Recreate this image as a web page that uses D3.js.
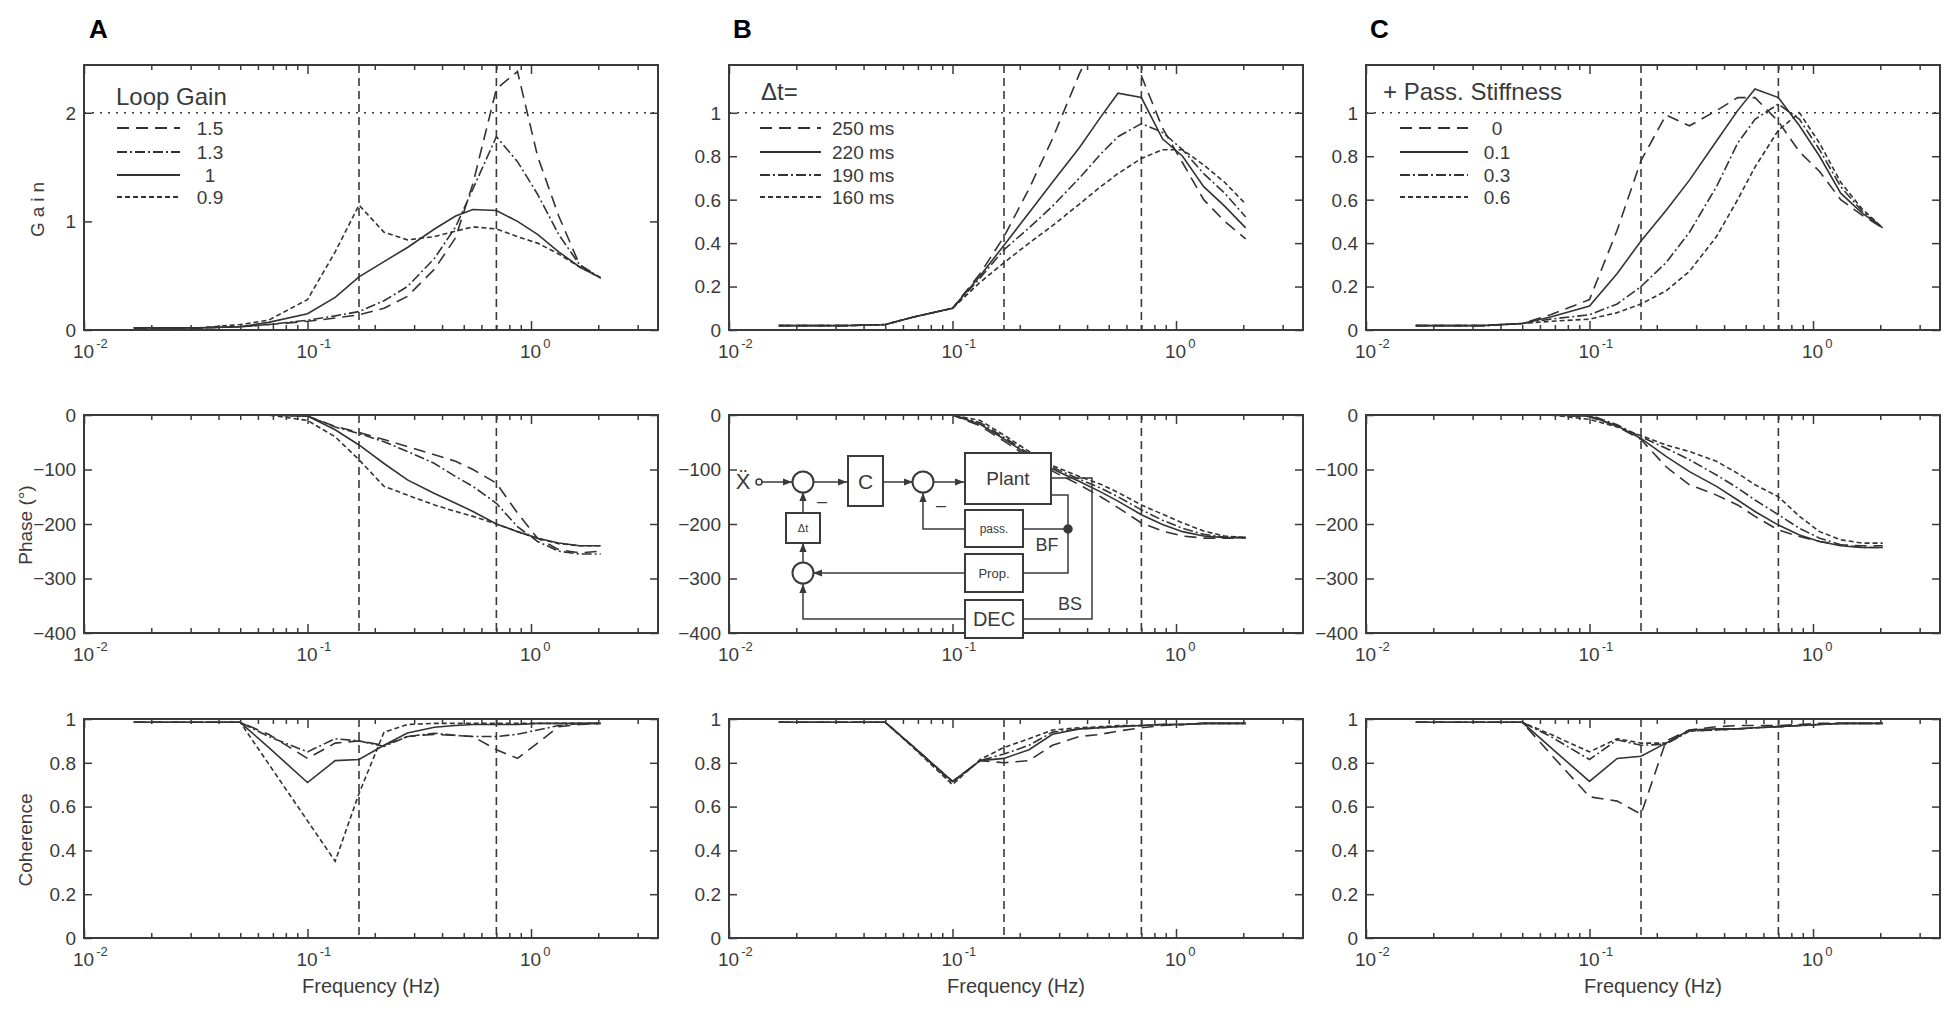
<!DOCTYPE html>
<html>
<head>
<meta charset="utf-8">
<script src="https://cdn.jsdelivr.net/npm/d3@7"></script>
<style>
  body { margin: 0; background: #fff; }
  svg { display: block; font-family: "Liberation Sans", Arial, Helvetica, "DejaVu Sans", sans-serif; }
</style>
</head>
<body>
<svg id="fig" width="1950" height="1013"></svg>
<script>
// frequencies (Hz) where every curve is sampled
const freqs = [0.0167, 0.033, 0.05, 0.067, 0.1, 0.133, 0.17, 0.22, 0.28, 0.37, 0.46, 0.55, 0.7, 0.87, 1.07, 1.33, 1.65, 2.05];

// A: loop gain 1.5 / 1.3 / 1 / 0.9
const gainA_15 = [0.02, 0.02, 0.03, 0.05, 0.08, 0.11, 0.14, 0.2, 0.31, 0.56, 0.85, 1.35, 2.22, 2.38, 1.6, 1.05, 0.6, 0.48];
const gainA_13 = [0.02, 0.02, 0.03, 0.05, 0.09, 0.13, 0.17, 0.27, 0.4, 0.66, 0.95, 1.3, 1.78, 1.55, 1.25, 0.88, 0.6, 0.48];
const gainA_10 = [0.02, 0.02, 0.03, 0.07, 0.15, 0.3, 0.49, 0.63, 0.76, 0.93, 1.05, 1.11, 1.1, 1.0, 0.88, 0.72, 0.58, 0.48];
const gainA_09 = [0.02, 0.02, 0.05, 0.09, 0.28, 0.72, 1.15, 0.9, 0.83, 0.86, 0.91, 0.95, 0.93, 0.86, 0.8, 0.7, 0.58, 0.48];
const phaseA_15 = [0, 0, 0, 0, -2, -21, -32, -45, -58, -73, -85, -100, -125, -180, -226, -247, -253, -250];
const phaseA_13 = [0, 0, 0, 0, -2, -22, -34, -49, -67, -89, -113, -131, -162, -205, -232, -250, -255, -255];
const phaseA_10 = [0, 0, 0, 0, -2, -27, -55, -89, -119, -144, -162, -177, -200, -214, -226, -235, -240, -240];
const phaseA_09 = [0, 0, 0, 0, -10, -40, -82, -131, -147, -165, -177, -186, -200, -214, -226, -236, -240, -240];
const cohA_15 = [0.985, 0.985, 0.985, 0.93, 0.82, 0.89, 0.9, 0.88, 0.92, 0.93, 0.925, 0.92, 0.86, 0.82, 0.89, 0.965, 0.975, 0.98];
const cohA_13 = [0.985, 0.985, 0.985, 0.92, 0.85, 0.91, 0.9, 0.875, 0.92, 0.935, 0.925, 0.92, 0.92, 0.93, 0.95, 0.97, 0.98, 0.98];
const cohA_10 = [0.985, 0.985, 0.985, 0.87, 0.71, 0.81, 0.815, 0.88, 0.936, 0.962, 0.97, 0.975, 0.975, 0.975, 0.98, 0.98, 0.98, 0.98];
const cohA_09 = [0.985, 0.985, 0.985, 0.795, 0.535, 0.35, 0.66, 0.94, 0.975, 0.98, 0.98, 0.98, 0.98, 0.98, 0.98, 0.98, 0.98, 0.98];

// B: delay 250 / 220 / 190 / 160 ms
const gainB_250 = [0.02, 0.02, 0.025, 0.06, 0.1, 0.26, 0.43, 0.65, 0.88, 1.18, 1.38, 1.42, 1.17, 0.93, 0.77, 0.6, 0.5, 0.42];
const gainB_220 = [0.02, 0.02, 0.025, 0.06, 0.1, 0.25, 0.39, 0.54, 0.68, 0.84, 0.98, 1.09, 1.07, 0.88, 0.8, 0.66, 0.57, 0.47];
const gainB_190 = [0.02, 0.02, 0.025, 0.06, 0.1, 0.24, 0.37, 0.47, 0.57, 0.7, 0.81, 0.89, 0.95, 0.91, 0.83, 0.72, 0.63, 0.52];
const gainB_160 = [0.02, 0.02, 0.025, 0.06, 0.1, 0.22, 0.31, 0.4, 0.48, 0.58, 0.66, 0.72, 0.79, 0.83, 0.83, 0.76, 0.68, 0.58];
const phaseB_250 = [0, 0, 0, 0, 0, -20, -48, -78, -103, -128, -150, -170, -198, -213, -222, -226, -226, -225];
const phaseB_220 = [0, 0, 0, 0, 0, -17, -44, -74, -99, -122, -141, -158, -183, -201, -214, -222, -225, -225];
const phaseB_190 = [0, 0, 0, 0, 0, -14, -41, -71, -96, -118, -134, -150, -174, -193, -208, -219, -224, -225];
const phaseB_160 = [0, 0, 0, 0, 0, -10, -37, -67, -93, -113, -127, -142, -165, -182, -198, -213, -222, -225];
const cohB_250 = [0.985, 0.985, 0.985, 0.873, 0.715, 0.81, 0.8, 0.81, 0.88, 0.92, 0.93, 0.945, 0.96, 0.97, 0.975, 0.98, 0.98, 0.98];
const cohB_220 = [0.985, 0.985, 0.985, 0.873, 0.715, 0.81, 0.82, 0.86, 0.93, 0.955, 0.96, 0.965, 0.97, 0.975, 0.975, 0.98, 0.98, 0.98];
const cohB_190 = [0.985, 0.985, 0.985, 0.87, 0.71, 0.81, 0.84, 0.88, 0.94, 0.955, 0.96, 0.965, 0.97, 0.975, 0.975, 0.98, 0.98, 0.98];
const cohB_160 = [0.985, 0.985, 0.985, 0.868, 0.7, 0.815, 0.87, 0.91, 0.95, 0.96, 0.965, 0.97, 0.97, 0.975, 0.975, 0.98, 0.98, 0.98];

// C: passive stiffness 0 / 0.1 / 0.3 / 0.6
const gainC_0 = [0.02, 0.02, 0.03, 0.07, 0.14, 0.46, 0.78, 0.99, 0.94, 1.01, 1.07, 1.07, 0.96, 0.82, 0.73, 0.6, 0.53, 0.47];
const gainC_01 = [0.02, 0.02, 0.03, 0.06, 0.11, 0.26, 0.41, 0.55, 0.69, 0.87, 1.01, 1.11, 1.07, 0.94, 0.8, 0.63, 0.54, 0.47];
const gainC_03 = [0.02, 0.02, 0.03, 0.05, 0.07, 0.12, 0.2, 0.31, 0.45, 0.66, 0.86, 0.97, 1.04, 0.97, 0.83, 0.66, 0.55, 0.47];
const gainC_06 = [0.02, 0.02, 0.03, 0.04, 0.05, 0.08, 0.12, 0.18, 0.27, 0.43, 0.6, 0.75, 0.92, 1.0, 0.86, 0.68, 0.56, 0.47];
const phaseC_0 = [0, 0, 0, 0, -3, -21, -45, -95, -128, -147, -165, -186, -211, -223, -232, -238, -240, -240];
const phaseC_01 = [0, 0, 0, 0, -2, -20, -43, -76, -104, -131, -156, -177, -202, -220, -232, -240, -243, -243];
const phaseC_03 = [0, 0, 0, 0, 0, -18, -40, -61, -82, -110, -134, -156, -183, -208, -226, -238, -243, -243];
const phaseC_06 = [0, 0, 0, 0, -8, -22, -38, -55, -67, -85, -107, -128, -150, -186, -214, -229, -235, -235];
const cohC_0 = [0.985, 0.985, 0.985, 0.84, 0.645, 0.625, 0.565, 0.9, 0.95, 0.965, 0.97, 0.97, 0.97, 0.975, 0.98, 0.98, 0.98, 0.98];
const cohC_01 = [0.985, 0.985, 0.985, 0.87, 0.715, 0.82, 0.83, 0.89, 0.95, 0.955, 0.955, 0.96, 0.965, 0.97, 0.975, 0.98, 0.98, 0.98];
const cohC_03 = [0.985, 0.985, 0.985, 0.92, 0.815, 0.905, 0.88, 0.885, 0.945, 0.95, 0.955, 0.96, 0.965, 0.97, 0.975, 0.98, 0.98, 0.98];
const cohC_06 = [0.985, 0.985, 0.985, 0.93, 0.85, 0.91, 0.89, 0.89, 0.945, 0.95, 0.955, 0.96, 0.965, 0.97, 0.975, 0.98, 0.98, 0.98];

// legends and reference frequencies
const legendA = ["1.5", "1.3", "1", "0.9"];
const legendB = ["250 ms", "220 ms", "190 ms", "160 ms"];
const legendC = ["0", "0.1", "0.3", "0.6"];
const refFreqs = [0.17, 0.7];
const xDecades = [0.01, 0.1, 1];
const gainTicksA = [0, 1, 2];
const gainTicksBC = [0, 0.2, 0.4, 0.6, 0.8, 1];
const phaseTicks = [-400, -300, -200, -100, 0];
const cohTicks = [0, 0.2, 0.4, 0.6, 0.8, 1];

const ink = "#3a3a3a";
const dashes = { dashed: "12,7", dashdot: "10,3,2,3", solid: null, dotted: "5,3" };
const W = 574;
const colX = [84, 729, 1366];
const rows = [{ top: 65, bottom: 330 }, { top: 415, bottom: 633 }, { top: 719, bottom: 938 }];

const columns = [
  { letter: "A", title: "Loop Gain", labels: legendA, styles: ["dashed", "dashdot", "solid", "dotted"],
    gain: [gainA_15, gainA_13, gainA_10, gainA_09], phase: [phaseA_15, phaseA_13, phaseA_10, phaseA_09],
    coh: [cohA_15, cohA_13, cohA_10, cohA_09], gainMax: 2.44, gainTicks: gainTicksA, gainRef: 2,
    titleX: 32, lineX: [33, 96], labelX: 126, labelAnchor: "middle" },
  { letter: "B", title: "\u0394t=", labels: legendB, styles: ["dashed", "solid", "dashdot", "dotted"],
    gain: [gainB_250, gainB_220, gainB_190, gainB_160], phase: [phaseB_250, phaseB_220, phaseB_190, phaseB_160],
    coh: [cohB_250, cohB_220, cohB_190, cohB_160], gainMax: 1.22, gainTicks: gainTicksBC, gainRef: 1,
    titleX: 32, lineX: [31, 92], labelX: 103, labelAnchor: "start" },
  { letter: "C", title: "+ Pass. Stiffness", labels: legendC, styles: ["dashed", "solid", "dashdot", "dotted"],
    gain: [gainC_0, gainC_01, gainC_03, gainC_06], phase: [phaseC_0, phaseC_01, phaseC_03, phaseC_06],
    coh: [cohC_0, cohC_01, cohC_03, cohC_06], gainMax: 1.22, gainTicks: gainTicksBC, gainRef: 1,
    titleX: 17, lineX: [34, 102], labelX: 131, labelAnchor: "middle" }
];

const svg = d3.select("#fig");
const defs = svg.append("defs");
defs.append("marker").attr("id", "arr").attr("viewBox", "0 -5 10 10")
  .attr("refX", 10).attr("refY", 0).attr("markerWidth", 9).attr("markerHeight", 9)
  .attr("markerUnits", "userSpaceOnUse").attr("orient", "auto")
  .append("path").attr("d", "M0,-4L10,0L0,4Z").attr("fill", ink);

const x = d3.scaleLog().domain([0.01, 3.7]).range([0, W]);
const minorTicks = [];
xDecades.forEach(d => { for (let k = 2; k <= 9; k++) if (d * k <= 3.7) minorTicks.push(d * k); });

const fmt = d3.format("~g");
let clipId = 0;

function panel(ci, ri, yDomain, yTicks, series, styles, opts) {
  const row = rows[ri];
  const h = row.bottom - row.top;
  const g = svg.append("g").attr("transform", `translate(${colX[ci]},${row.top})`);
  const y = d3.scaleLinear().domain(yDomain).range([h, 0]);

  const id = "clip" + (clipId++);
  defs.append("clipPath").attr("id", id).append("rect").attr("width", W).attr("height", h);
  const plot = g.append("g").attr("clip-path", `url(#${id})`);

  // reference lines
  refFreqs.forEach((f, i) => {
    if (opts.skipRef && opts.skipRef.includes(i)) return;
    plot.append("line").attr("x1", x(f)).attr("x2", x(f)).attr("y1", 0).attr("y2", h)
      .attr("stroke", ink).attr("stroke-width", 1.6).attr("stroke-dasharray", "8,5");
  });
  if (opts.hRef != null) {
    plot.append("line").attr("x1", 0).attr("x2", W).attr("y1", y(opts.hRef)).attr("y2", y(opts.hRef))
      .attr("stroke", ink).attr("stroke-width", 1.6).attr("stroke-dasharray", "2,6");
  }

  const line = d3.line().x((d, i) => x(freqs[i])).y(d => y(d));
  series.forEach((s, i) => {
    plot.append("path").attr("d", line(s)).attr("fill", "none")
      .attr("stroke", "#333").attr("stroke-width", 1.6)
      .attr("stroke-dasharray", dashes[styles[i]]);
  });

  // ticks, pointing inward on all four sides
  const tickStyle = sel => {
    sel.select(".domain").remove();
    sel.selectAll("line").attr("stroke", ink).attr("stroke-width", 1.5);
  };
  g.append("g").attr("transform", `translate(0,${h})`)
    .call(d3.axisBottom(x).tickValues(xDecades).tickSize(-9).tickFormat("")).call(tickStyle);
  g.append("g").attr("transform", `translate(0,${h})`)
    .call(d3.axisBottom(x).tickValues(minorTicks).tickSize(-5).tickFormat("")).call(tickStyle);
  g.append("g").call(d3.axisTop(x).tickValues(xDecades).tickSize(-9).tickFormat("")).call(tickStyle);
  g.append("g").call(d3.axisTop(x).tickValues(minorTicks).tickSize(-5).tickFormat("")).call(tickStyle);
  g.append("g").call(d3.axisLeft(y).tickValues(yTicks).tickSize(-8).tickFormat("")).call(tickStyle);
  g.append("g").attr("transform", `translate(${W},0)`)
    .call(d3.axisRight(y).tickValues(yTicks).tickSize(-8).tickFormat("")).call(tickStyle);

  g.append("rect").attr("width", W).attr("height", h).attr("fill", "none")
    .attr("stroke", ink).attr("stroke-width", 2);

  // tick labels
  yTicks.forEach(v => {
    g.append("text").attr("x", -8).attr("y", y(v)).attr("dy", "0.36em")
      .attr("text-anchor", "end").attr("font-size", 19).attr("fill", ink).text(fmt(v));
  });
  xDecades.forEach(d => {
    const t = g.append("text").attr("x", x(d) - 11).attr("y", h + 28)
      .attr("font-size", 19).attr("fill", ink);
    t.append("tspan").text("10");
    t.append("tspan").attr("dx", 2).attr("dy", -10).attr("font-size", 13)
      .text(String(Math.round(Math.log10(d))));
  });
  return { g, y, h };
}

columns.forEach((col, ci) => {
  const gp = panel(ci, 0, [0, col.gainMax], col.gainTicks, col.gain, col.styles, { hRef: col.gainRef });
  panel(ci, 1, [-400, 0], phaseTicks, col.phase, col.styles, { skipRef: ci === 1 ? [0] : null });
  panel(ci, 2, [0, 1], cohTicks, col.coh, col.styles, {});

  // panel letter
  svg.append("text").attr("x", colX[ci] + (ci === 0 ? 5 : 4)).attr("y", 38)
    .attr("font-size", 26).attr("font-weight", "bold").attr("fill", "#000").text(col.letter);

  // legend
  const lg = gp.g;
  lg.append("text").attr("x", col.titleX).attr("y", ci === 0 ? 40 : 35)
    .attr("font-size", 24).attr("fill", ink).text(col.title);
  const entryY = [63, 87, 110, 132];
  col.labels.forEach((lab, i) => {
    lg.append("line").attr("x1", col.lineX[0]).attr("x2", col.lineX[1])
      .attr("y1", entryY[i]).attr("y2", entryY[i])
      .attr("stroke", "#333").attr("stroke-width", 1.8).attr("stroke-dasharray", dashes[col.styles[i]]);
    lg.append("text").attr("x", col.labelX).attr("y", entryY[i]).attr("dy", "0.36em")
      .attr("text-anchor", col.labelAnchor).attr("font-size", 19).attr("fill", ink).text(lab);
  });

  // frequency label
  svg.append("text").attr("x", colX[ci] + W / 2).attr("y", 993).attr("text-anchor", "middle")
    .attr("font-size", 20).attr("fill", ink).text("Frequency (Hz)");
});

// y axis titles (column A only)
function yTitle(text, cx, cy, spacing) {
  svg.append("text").attr("transform", `translate(${cx},${cy}) rotate(-90)`)
    .attr("text-anchor", "middle").attr("dy", "0.36em").attr("font-size", 19)
    .attr("letter-spacing", spacing).attr("fill", ink).text(text);
}
yTitle("Gain", 37, 207, 5);
yTitle("Phase (\u00b0)", 25, 525, 0);
yTitle("Coherence", 25, 840, 0);

// block diagram inset in the B phase panel
const dg = svg.append("g").attr("transform", `translate(${colX[1]},${rows[1].top})`)
  .attr("fill", "none").attr("stroke", ink).attr("stroke-width", 1.5);
const box = (bx, by, bw, bh, label, fs) => {
  dg.append("rect").attr("x", bx).attr("y", by).attr("width", bw).attr("height", bh)
    .attr("fill", "#fff").attr("stroke-width", 2);
  dg.append("text").attr("x", bx + bw / 2).attr("y", by + bh / 2).attr("dy", "0.36em")
    .attr("text-anchor", "middle").attr("font-size", fs).attr("fill", ink).attr("stroke", "none").text(label);
};
const wire = (pts, arrow) => {
  const p = dg.append("path").attr("d", d3.line()(pts));
  if (arrow) p.attr("marker-end", "url(#arr)");
};
const sum = (cx, cy) => dg.append("circle").attr("cx", cx).attr("cy", cy).attr("r", 10.5)
  .attr("fill", "#fff").attr("stroke-width", 2);

wire([[33, 67], [63, 67]], true);
wire([[84, 67], [118, 67]], true);
wire([[154, 67], [184, 67]], true);
wire([[205, 67], [235, 67]], true);
wire([[322, 63], [363, 63], [363, 204], [294, 204]], false);
wire([[322, 80], [339, 80], [339, 158], [294, 158]], false);
wire([[339, 114], [294, 114]], false);
wire([[236, 114], [194, 114], [194, 78]], true);
wire([[236, 158], [84, 158]], true);
wire([[74, 148], [74, 128]], true);
wire([[74, 98], [74, 77]], true);
wire([[236, 204], [74, 204], [74, 169]], true);
dg.append("circle").attr("cx", 30).attr("cy", 67).attr("r", 3).attr("fill", "#fff");
dg.append("circle").attr("cx", 339).attr("cy", 114).attr("r", 4).attr("fill", ink);
sum(74, 67); sum(194, 67); sum(74, 158);
box(119, 41, 35, 50, "C", 21);
box(236, 38, 86, 51, "Plant", 19);
box(236, 95, 58, 37, "pass.", 12);
box(236, 139, 58, 38, "Prop.", 13);
box(236, 185, 58, 38, "DEC", 20);
box(57, 98, 34, 30, "\u0394t", 11);
const dtext = (tx, ty, s, fs) => dg.append("text").attr("x", tx).attr("y", ty).attr("dy", "0.36em")
  .attr("text-anchor", "middle").attr("font-size", fs).attr("fill", ink).attr("stroke", "none").text(s);
dtext(14, 66, "\u1E8C", 22);
dtext(93, 86, "\u2013", 18);
dtext(212, 90, "\u2013", 18);
dtext(318, 130, "BF", 18);
dtext(341, 189, "BS", 18);
</script>
</body>
</html>
